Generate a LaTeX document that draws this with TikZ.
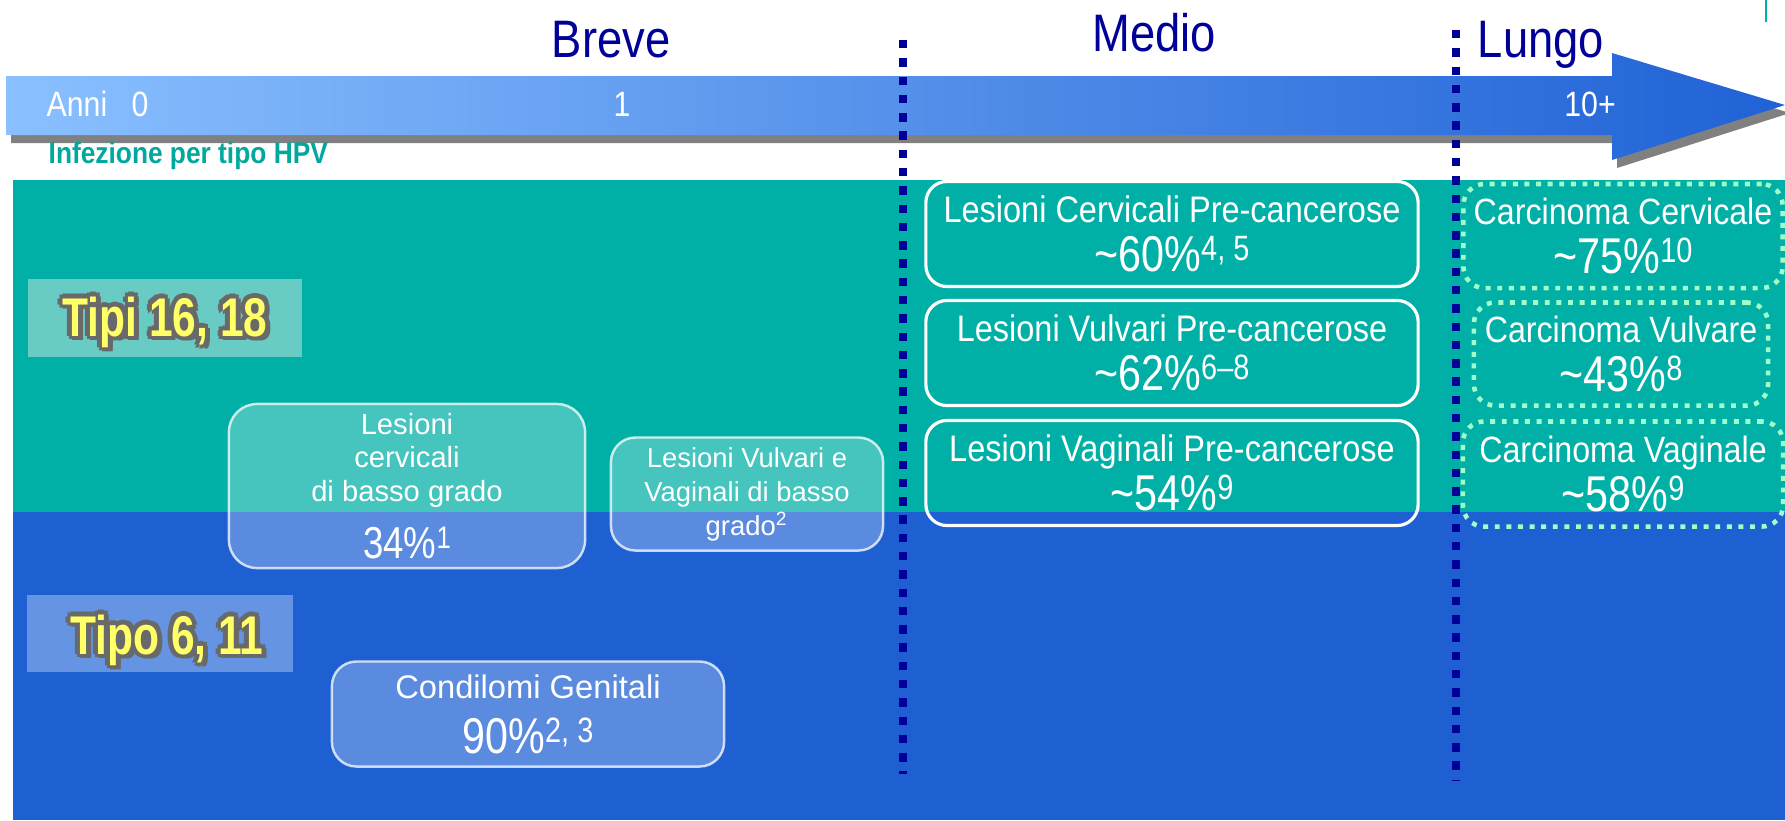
\documentclass[tikz,border=0pt]{standalone}
\usepackage{fontspec}
\setmainfont{Liberation Sans}[FakeStretch=0.88]
\newfontfamily\titlefont{Liberation Sans}[FakeStretch=0.86]
\newfontfamily\pctfont{Liberation Sans}[FakeStretch=0.82]
\newfontfamily\plainfont{Liberation Sans}
\newfontfamily\tipifont{Liberation Sans}[FakeStretch=0.78]
\usetikzlibrary{positioning}

\definecolor{bandteal}{RGB}{0,176,166}
\definecolor{bandblue}{RGB}{30,96,210}
\definecolor{navy}{RGB}{0,0,153}
\definecolor{infteal}{RGB}{0,168,158}
\definecolor{arrowlight}{RGB}{138,192,255}
\definecolor{arrowmid}{RGB}{92,148,235}
\definecolor{arrowdark}{RGB}{32,98,214}
\definecolor{shadowgray}{RGB}{128,128,128}
\definecolor{mint}{RGB}{160,255,200}
\definecolor{tipiteal}{RGB}{104,204,196}
\definecolor{tipoblue}{RGB}{100,148,226}
\definecolor{glowgray}{RGB}{105,105,105}
\definecolor{tipiyellow}{RGB}{255,255,102}

% percentage with reference numbers, top aligned
\newcommand{\pctval}[3][14.3]{{\pctfont\fontsize{#1}{13.9}\selectfont
  #2\%\raisebox{0.215em}{\fontsize{\fpeval{0.7*#1}}{10}\selectfont #3}}}
% yellow type label with grey halo
\newcommand{\glowtext}[3]{%
  \foreach \ga [count=\gi] in {0,45,...,315}
    \node[tipitext, text=glowgray] (#1-glow-\gi) at ([shift={(\ga:1.4pt)}]#2) {#3};
  \node[tipitext, text=glowgray] (#1-shadow) at ([shift={(1.3pt,-1.3pt)}]#2) {#3};
  \node[tipitext, text=tipiyellow] (#1) at (#2) {#3};}

\begin{document}
\begin{tikzpicture}
  [x=0.01cm, y=-0.01cm,
   every node/.style={inner sep=0pt, text=white},
   periodtitle/.style={font=\titlefont\fontsize{15}{18}\selectfont, text=navy, anchor=base},
   yeartick/.style={font=\titlefont\fontsize{10}{12}\selectfont, anchor=base},
   medbox/.style={draw=white, line width=0.9pt, rounded corners=6pt,
     minimum width=4.92cm, minimum height=1.05cm, align=center,
     font=\fontsize{10.5}{13.9}\selectfont},
   lungbox/.style={draw=mint, line width=1.3pt, dash pattern=on 1.4pt off 1.9pt,
     rounded corners=6pt, align=center, font=\fontsize{10.4}{13.7}\selectfont},
   lowbox/.style={draw=white, draw opacity=0.75, fill=white, fill opacity=0.27,
     text opacity=1, line width=0.7pt, rounded corners=7pt, align=center},
   typebox/.style={draw=none},
   tipitext/.style={font=\tipifont\bfseries\fontsize{15.5}{18}\selectfont, anchor=base},
   cutline/.style={navy, line width=2.3pt, dash pattern=on 2.4pt off 2.8pt}]
  \useasboundingbox (0,0) rectangle (1785,820);

  % background bands
  \fill[bandteal] (13,180) rectangle (1785,512);
  \fill[bandblue] (13,512) rectangle (1785,820);
  \draw[bandteal, line width=0.8pt] (1766,0) -- (1766,22);

  % time arrow
  \begin{scope}[shift={(5,8)}]
    \fill[shadowgray] (6,76) -- (1612,76) -- (1612,53) -- (1785,105)
      -- (1612,160) -- (1612,135) -- (6,135) -- cycle;
  \end{scope}
  \shade[left color=arrowlight, middle color=arrowmid, right color=arrowdark]
    (6,76) -- (1612,76) -- (1612,53) -- (1785,105)
    -- (1612,160) -- (1612,135) -- (6,135) -- cycle;

  \node[yeartick, anchor=base west] (anni) at (46,116) {Anni};
  \node[yeartick, anchor=base west] (year0) at (131,116) {0};
  \node[yeartick] (year1) at (622,116) {1};
  \node[yeartick] (year10) at (1590,116) {10+};
  \node[anchor=base west, text=infteal, font=\bfseries\fontsize{8.5}{10}\selectfont]
    (infez) at (48,163) {Infezione per tipo HPV};

  \node[periodtitle] (breve) at (611,57) {Breve};
  \node[periodtitle] (medio) at (1154,51) {Medio};
  \node[periodtitle] (lungo) at (1541,57) {Lungo};

  % HPV type labels
  \node[typebox, fill=tipiteal, minimum width=2.74cm, minimum height=0.78cm] (tipibox) at (165,318) {};
  \node[typebox, fill=tipoblue, minimum width=2.65cm, minimum height=0.77cm] (tipobox) at (160,633) {};
  \coordinate (tipibase) at (165,336);
  \coordinate (tipobase) at (167,654);
  \glowtext{tipi}{tipibase}{Tipi 16, 18}
  \glowtext{tipo}{tipobase}{Tipo 6, 11}

  % short term
  \node[lowbox, minimum width=3.56cm, minimum height=1.64cm, rounded corners=8pt,
    font=\plainfont\fontsize{8.3}{9.5}\selectfont] (cervlow) at (407,486)
    {Lesioni\\cervicali\\di basso grado\\[4.7pt]\pctval[12.7]{34}{1}};
  \node[lowbox, minimum width=2.72cm, minimum height=1.13cm,
    font=\plainfont\fontsize{7.8}{9.7}\selectfont] (vulvlow) at (747,494)
    {Lesioni Vulvari e\\Vaginali di basso\\grado\textsuperscript{2}};
  \node[lowbox, minimum width=3.92cm, minimum height=1.05cm,
    font=\plainfont\fontsize{9.3}{15.6}\selectfont] (condil) at (528,714)
    {Condilomi Genitali\\\pctval{90}{2, 3}};

  % medium term
  \node[medbox] (cervpre) at (1172,234)
    {Lesioni Cervicali Pre-cancerose\\\pctval{\textasciitilde 60}{4, 5}};
  \node[medbox] (vulvpre) at (1172,353)
    {Lesioni Vulvari Pre-cancerose\\\pctval{\textasciitilde 62}{6–8}};
  \node[medbox] (vagpre) at (1172,473)
    {Lesioni Vaginali Pre-cancerose\\\pctval{\textasciitilde 54}{9}};

  % long term
  \node[lungbox, minimum width=3.19cm, minimum height=1.04cm] (carccerv) at (1623,236)
    {Carcinoma Cervicale\\\pctval{\textasciitilde 75}{10}};
  \node[lungbox, minimum width=2.94cm, minimum height=1.03cm] (carcvulv) at (1621,354)
    {Carcinoma Vulvare\\\pctval{\textasciitilde 43}{8}};
  \node[lungbox, minimum width=3.20cm, minimum height=1.05cm] (carcvag) at (1623,474)
    {Carcinoma Vaginale\\\pctval{\textasciitilde 58}{9}};

  % period separators
  \coordinate (medcut-top) at (903,40);
  \coordinate (medcut-bot) at (903,774);
  \coordinate (lungcut-top) at (1456,30);
  \coordinate (lungcut-bot) at (1456,780);
  \draw[cutline] (medcut-top) -- (medcut-bot);
  \draw[cutline] (lungcut-top) -- (lungcut-bot);
\end{tikzpicture}
\end{document}
